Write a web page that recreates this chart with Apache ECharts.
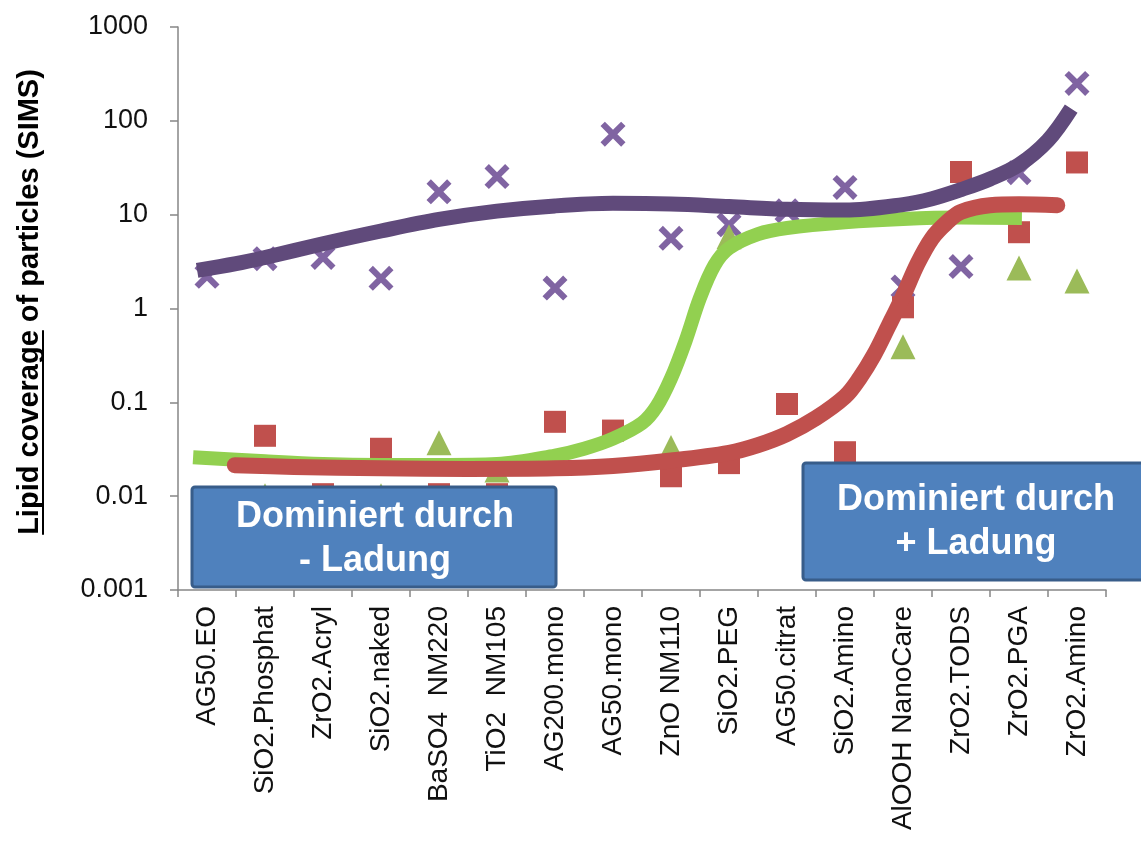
<!DOCTYPE html>
<html>
<head>
<meta charset="utf-8">
<script src="https://cdn.jsdelivr.net/npm/echarts@6/dist/echarts.min.js"></script>
<style>
  html, body { margin: 0; padding: 0; background: #ffffff; }
  #chart { width: 1141px; height: 848px; }
</style>
</head>
<body>
<div id="chart"></div>
<script>
// Particle types along the x axis
const categories = [
  'AG50.EO', 'SiO2.Phosphat', 'ZrO2.Acryl', 'SiO2.naked', 'BaSO4  NM220',
  'TiO2  NM105', 'AG200.mono', 'AG50.mono', 'ZnO NM110', 'SiO2.PEG',
  'AG50.citrat', 'SiO2.Amino', 'AlOOH NanoCare', 'ZrO2.TODS', 'ZrO2.PGA', 'ZrO2.Amino'
];

// Measured lipid coverage (SIMS), one value per particle type
const purpleValues = [2.2, 3.4, 3.5, 2.1, 17.5, 25.5, 1.65, 72, 5.6, 7.8, 11, 19.5, 1.7, 2.8, 28, 250];
const redValues    = [null, 0.044, 0.0105, 0.032, 0.0105, 0.0105, 0.062, 0.050, 0.0163, 0.0225, 0.096, 0.0294, 1.03, 28.5, 6.5, 36];
const greenValues  = [null, 0.0101, null, 0.0101, 0.037, 0.019, null, null, 0.033, 5.8, null, null, 0.39, null, 2.7, 1.96];

// Trend curves: [category position, coverage]
const purpleTrend = [[-0.17, 2.55], [0.5, 3.0], [1, 3.5], [2, 4.9], [3, 6.7], [4, 8.9], [5, 10.9], [6, 12.4],
  [7, 13.2], [8, 13], [9, 12.2], [10, 11.4], [11, 11.2], [12, 12.8], [12.5, 14.8], [13, 18.5],
  [13.5, 24], [14, 34], [14.5, 62], [14.9, 135]];
const greenTrend = [[-0.24, 0.026], [1, 0.0235], [2, 0.022], [3, 0.0215], [4, 0.0215], [5, 0.022],
  [6, 0.027], [6.5, 0.032], [7, 0.041], [7.5, 0.06], [7.75, 0.09], [8, 0.18], [8.25, 0.45],
  [8.5, 1.3], [8.75, 2.9], [9, 4.4], [9.5, 6.2], [10, 7.2], [11, 8.3], [12, 9.0], [13, 9.3], [14.05, 9.2]];
const redTrend = [[0.48, 0.0214], [1.5, 0.0205], [3, 0.0198], [4.5, 0.0195], [6, 0.0198], [7, 0.021],
  [8, 0.024], [9, 0.029], [9.5, 0.035], [10, 0.046], [10.5, 0.068], [11, 0.115], [11.25, 0.18],
  [11.5, 0.32], [11.75, 0.65], [12, 1.35], [12.25, 3.0], [12.5, 5.6], [12.75, 8.2], [13, 10.7],
  [13.5, 12.6], [14, 12.9], [14.66, 12.6]];

// Tick labels of the logarithmic axis
const yTickLabels = ['0.001', '0.01', '0.1', '1', '10', '100', '1000'];

const yTitle = 'Lipid coverage of particles (SIMS)';
const yTitleUnderlined = 'Lipid coverage';
const noteLeft = 'Dominiert durch\n- Ladung';
const noteRight = 'Dominiert durch\n+ Ladung';

const AXIS_GREY = '#868686';
const crossPath = 'path://M0,3.5 L3.5,0 L10,6.5 L16.5,0 L20,3.5 L13.5,10 L20,16.5 L16.5,20 L10,13.5 L3.5,20 L0,16.5 L6.5,10 Z';

const chart = echarts.init(document.getElementById('chart'), null, { renderer: 'canvas' });

// Underline position for the first words of the rotated axis title
const titleFont = 'bold 29px "Liberation Sans", Arial, sans-serif';
const measureCtx = document.createElement('canvas').getContext('2d');
measureCtx.font = titleFont;
const titleWidth = measureCtx.measureText(yTitle).width;
const underlineWidth = measureCtx.measureText(yTitleUnderlined).width;
const titleCx = 30, titleCy = 302;
const titleBottom = titleCy + titleWidth / 2;

const noteFont = {
  fill: '#ffffff',
  font: 'bold 36px "Liberation Sans", Arial, sans-serif',
  textAlign: 'center',
  textVerticalAlign: 'middle',
  lineHeight: 44
};
const boxStyle = { fill: '#4F81BD', stroke: '#385D8A', lineWidth: 3 };

function trendSeries(name, data, color, width, cap, z) {
  return {
    name: name,
    type: 'line',
    xAxisIndex: 1,
    data: data,
    smooth: 0.35,
    showSymbol: false,
    symbol: 'none',
    lineStyle: { color: color, width: width, cap: cap, join: 'round' },
    z: z
  };
}

chart.setOption({
  backgroundColor: '#ffffff',
  animation: false,
  grid: { left: 178, right: 35, top: 27, bottom: 258, containLabel: false },
  xAxis: [
    {
      type: 'category',
      data: categories,
      boundaryGap: true,
      axisLine: { show: true, lineStyle: { color: AXIS_GREY, width: 1.5 } },
      axisTick: { show: true, length: 7, lineStyle: { color: AXIS_GREY, width: 1.5 } },
      axisLabel: {
        rotate: 90,
        margin: 16,
        interval: 0,
        fontSize: 28,
        fontFamily: '"Liberation Sans", Arial, sans-serif',
        color: '#111111'
      },
      splitLine: { show: false }
    },
    {
      type: 'value',
      min: -0.5,
      max: 15.5,
      show: false,
      axisLine: { show: false, onZero: false },
      splitLine: { show: false }
    }
  ],
  yAxis: {
    type: 'log',
    logBase: 10,
    min: 0.001,
    max: 1000,
    axisLine: { show: true, onZero: false, lineStyle: { color: AXIS_GREY, width: 1.5 } },
    axisTick: { show: true, length: 8, lineStyle: { color: AXIS_GREY, width: 1.5 } },
    axisLabel: {
      margin: 30,
      fontSize: 27,
      fontFamily: '"Liberation Sans", Arial, sans-serif',
      color: '#111111',
      formatter: function (v) {
        const idx = Math.round(Math.log10(v)) + 3;
        return yTickLabels[idx] !== undefined ? yTickLabels[idx] : '';
      }
    },
    splitLine: { show: false }
  },
  series: [
    {
      name: 'purple points',
      type: 'scatter',
      xAxisIndex: 0,
      data: purpleValues,
      symbol: crossPath,
      symbolSize: 25,
      itemStyle: { color: '#8064A2', opacity: 1 },
      z: 2
    },
    {
      name: 'red points',
      type: 'scatter',
      xAxisIndex: 0,
      data: redValues,
      symbol: 'rect',
      symbolSize: 22,
      itemStyle: { color: '#C0504D', opacity: 1 },
      z: 2
    },
    {
      name: 'green points',
      type: 'scatter',
      xAxisIndex: 0,
      data: greenValues,
      symbol: 'triangle',
      symbolSize: 25,
      itemStyle: { color: '#9BBB59', opacity: 1 },
      z: 2
    },
    trendSeries('green trend', greenTrend, '#92D050', 14, 'butt', 3),
    trendSeries('red trend', redTrend, '#C0504D', 16, 'round', 4),
    trendSeries('purple trend', purpleTrend, '#604A7B', 15, 'butt', 5)
  ],
  graphic: [
    {
      type: 'text',
      x: titleCx,
      y: titleCy,
      rotation: Math.PI / 2,
      style: {
        text: yTitle,
        font: titleFont,
        fill: '#000000',
        textAlign: 'center',
        textVerticalAlign: 'middle'
      },
      z: 100
    },
    {
      type: 'line',
      shape: { x1: titleCx + 13, y1: titleBottom, x2: titleCx + 13, y2: titleBottom - underlineWidth },
      style: { stroke: '#000000', lineWidth: 2 },
      z: 100
    },
    {
      type: 'rect',
      shape: { x: 192, y: 487, width: 364, height: 100, r: 3 },
      style: boxStyle,
      z: 100
    },
    {
      type: 'text',
      x: 375,
      y: 539,
      style: Object.assign({ text: noteLeft }, noteFont),
      z: 101
    },
    {
      type: 'rect',
      shape: { x: 803, y: 463, width: 360, height: 117, r: 3 },
      style: boxStyle,
      z: 100
    },
    {
      type: 'text',
      x: 976,
      y: 522,
      style: Object.assign({ text: noteRight }, noteFont),
      z: 101
    }
  ]
});
</script>
</body>
</html>
